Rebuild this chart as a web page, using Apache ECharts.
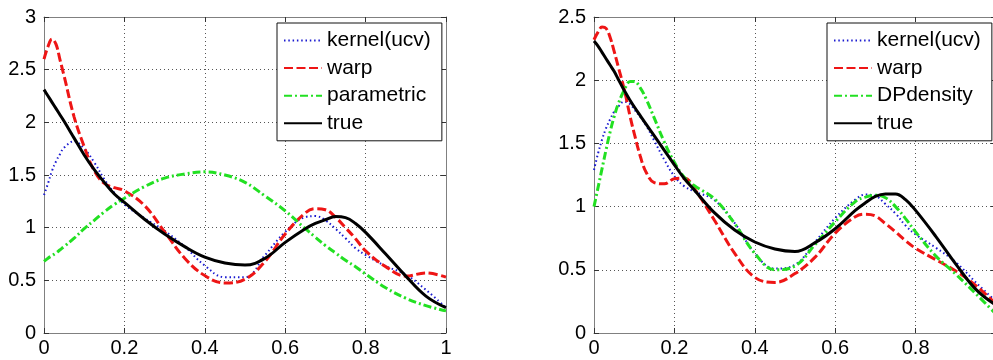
<!DOCTYPE html>
<html>
<head>
<meta charset="utf-8">
<script src="https://cdn.jsdelivr.net/npm/echarts@6/dist/echarts.min.js"></script>
<style>
html,body{margin:0;padding:0;background:#fff;}
#chart{width:993px;height:360px;}
</style>
</head>
<body>
<div id="chart"></div>
<script>
// ---------- data ----------
var xTicks = [0, 0.2, 0.4, 0.6, 0.8, 1];
var yTicksLeft = [0, 0.5, 1, 1.5, 2, 2.5, 3];
var yTicksRight = [0, 0.5, 1, 1.5, 2, 2.5];

var legendLeft = ['kernel(ucv)', 'warp', 'parametric', 'true'];
var legendRight = ['kernel(ucv)', 'warp', 'DPdensity', 'true'];

// left panel
var xL = [0, 0.01, 0.02, 0.03, 0.04, 0.05, 0.075, 0.1, 0.125, 0.15, 0.175, 0.2, 0.25, 0.3, 0.35, 0.4, 0.45, 0.5, 0.55, 0.6, 0.65, 0.675, 0.7, 0.725, 0.75, 0.775, 0.8, 0.85, 0.9, 0.95, 1.0];
var kernelL = [1.31, 1.42, 1.54, 1.63, 1.70, 1.76, 1.82, 1.75, 1.62, 1.46, 1.33, 1.22, 1.09, 0.97, 0.82, 0.64, 0.53, 0.53, 0.74, 0.96, 1.10, 1.11, 1.07, 0.99, 0.90, 0.805, 0.74, 0.635, 0.555, 0.41, 0.24];
var warpL = [2.60, 2.72, 2.79, 2.74, 2.59, 2.44, 2.05, 1.77, 1.54, 1.42, 1.38, 1.35, 1.21, 0.96, 0.71, 0.545, 0.475, 0.51, 0.68, 0.94, 1.14, 1.18, 1.17, 1.10, 1.00, 0.895, 0.78, 0.63, 0.54, 0.57, 0.53];
var parametricL = [0.68, 0.71, 0.735, 0.76, 0.79, 0.82, 0.90, 0.99, 1.07, 1.15, 1.22, 1.28, 1.39, 1.47, 1.51, 1.53, 1.50, 1.43, 1.30, 1.16, 0.99, 0.91, 0.83, 0.76, 0.69, 0.63, 0.56, 0.43, 0.33, 0.26, 0.21];
var trueL = [2.31, 2.25, 2.19, 2.13, 2.07, 2.01, 1.85, 1.69, 1.55, 1.43, 1.32, 1.24, 1.08, 0.94, 0.82, 0.72, 0.665, 0.645, 0.71, 0.86, 0.99, 1.04, 1.075, 1.105, 1.095, 1.04, 0.955, 0.75, 0.54, 0.35, 0.24];

// right panel
var xR = [0, 0.01, 0.02, 0.03, 0.04, 0.05, 0.06, 0.075, 0.09, 0.1, 0.115, 0.13, 0.15, 0.175, 0.2, 0.225, 0.25, 0.3, 0.35, 0.4, 0.45, 0.5, 0.55, 0.6, 0.65, 0.675, 0.7, 0.725, 0.75, 0.775, 0.8, 0.85, 0.9, 0.95, 1.0];
var kernelR = [1.29, 1.42, 1.53, 1.62, 1.69, 1.75, 1.79, 1.83, 1.81, 1.77, 1.71, 1.64, 1.52, 1.37, 1.24, 1.16, 1.12, 1.05, 0.87, 0.63, 0.51, 0.54, 0.72, 0.91, 1.055, 1.095, 1.085, 1.02, 0.945, 0.85, 0.78, 0.675, 0.56, 0.40, 0.25];
var warpR = [2.32, 2.38, 2.42, 2.41, 2.34, 2.23, 2.11, 1.93, 1.71, 1.58, 1.40, 1.27, 1.19, 1.18, 1.22, 1.225, 1.14, 0.89, 0.63, 0.44, 0.40, 0.47, 0.60, 0.79, 0.92, 0.94, 0.925, 0.865, 0.80, 0.73, 0.67, 0.58, 0.49, 0.375, 0.23];
var dpdensityR = [1.0, 1.15, 1.30, 1.45, 1.59, 1.71, 1.81, 1.92, 1.99, 1.99, 1.94, 1.85, 1.70, 1.51, 1.35, 1.23, 1.165, 1.06, 0.865, 0.63, 0.50, 0.53, 0.70, 0.88, 1.04, 1.075, 1.09, 1.07, 1.0, 0.905, 0.80, 0.61, 0.465, 0.31, 0.15];
var trueR = [2.31, 2.27, 2.22, 2.17, 2.12, 2.07, 2.01, 1.92, 1.84, 1.79, 1.72, 1.65, 1.56, 1.445, 1.33, 1.22, 1.13, 0.95, 0.815, 0.72, 0.665, 0.645, 0.715, 0.825, 0.97, 1.03, 1.08, 1.10, 1.10, 1.055, 0.97, 0.765, 0.545, 0.345, 0.22];

// ---------- styles ----------
var FONT = '"Liberation Sans", Arial, sans-serif';
var STY = {
  kernel: {color: '#1a1ad0', width: 2, type: [1.5, 2.8]},
  warp: {color: '#ee1515', width: 3, type: [9, 3.5]},
  green: {color: '#22e022', width: 3, type: [8, 3, 2, 3]},
  truth: {color: '#000000', width: 3, type: 'solid'}
};

function pairs(xs, ys) { return xs.map(function (x, i) { return [x, ys[i]]; }); }

function mkSeries(name, xs, ys, sty, gi) {
  return {
    name: name, type: 'line', xAxisIndex: gi * 2, yAxisIndex: gi * 2,
    data: pairs(xs, ys), smooth: 0.4, symbol: 'none', showSymbol: false,
    silent: true, animation: false,
    lineStyle: {color: sty.color, width: sty.width, type: sty.type, cap: 'butt'},
    itemStyle: {color: sty.color}
  };
}

function fmt(v) { return String(+(+v).toFixed(1)); }

function xAxes(gi, showMax) {
  var base = {type: 'value', gridIndex: gi, min: xTicks[0], max: xTicks[xTicks.length - 1], interval: xTicks[1] - xTicks[0]};
  return [
    Object.assign({}, base, {
      position: 'bottom',
      axisLine: {show: true, onZero: false, lineStyle: {color: '#808080', width: 1}},
      axisTick: {show: true, inside: true, length: 5, lineStyle: {color: '#333'}},
      axisLabel: {show: true, margin: 5, color: '#000', fontSize: 20, fontFamily: FONT, formatter: fmt, showMaxLabel: showMax},
      splitLine: {show: true, lineStyle: {color: '#555', width: 1, type: [1, 3]}}
    }),
    Object.assign({}, base, {
      position: 'top',
      axisLine: {show: true, onZero: false, lineStyle: {color: '#808080', width: 1}},
      axisTick: {show: true, inside: true, length: 5, lineStyle: {color: '#333'}},
      axisLabel: {show: false},
      splitLine: {show: false}
    })
  ];
}

function yAxes(gi, ticks) {
  var base = {type: 'value', gridIndex: gi, min: ticks[0], max: ticks[ticks.length - 1], interval: ticks[1] - ticks[0]};
  return [
    Object.assign({}, base, {
      position: 'left',
      axisLine: {show: true, onZero: false, lineStyle: {color: '#808080', width: 1}},
      axisTick: {show: true, inside: true, length: 5, lineStyle: {color: '#333'}},
      axisLabel: {show: true, margin: 8, color: '#000', fontSize: 20, fontFamily: FONT, formatter: fmt},
      splitLine: {show: true, lineStyle: {color: '#555', width: 1, type: [1, 3]}}
    }),
    Object.assign({}, base, {
      position: 'right',
      axisLine: {show: true, onZero: false, lineStyle: {color: '#808080', width: 1}},
      axisTick: {show: true, inside: true, length: 5, lineStyle: {color: '#333'}},
      axisLabel: {show: false},
      splitLine: {show: false}
    })
  ];
}

function mkLegend(data, left) {
  return {
    orient: 'vertical', left: left, top: 23,
    data: data,
    itemWidth: 38, itemHeight: 1, itemGap: 6.6,
    padding: [7, 11, 7, 6],
    backgroundColor: '#fff', borderColor: '#111', borderWidth: 1,
    selectedMode: false, inactiveColor: '#000',
    textStyle: {color: '#000', fontSize: 21, fontFamily: FONT, lineHeight: 20},
    itemStyle: {opacity: 0}
  };
}

var chart = echarts.init(document.getElementById('chart'), null, {renderer: 'canvas'});
chart.setOption({
  animation: false,
  backgroundColor: '#fff',
  grid: [
    {left: 44, top: 17, width: 402, height: 316, containLabel: false, outerBoundsMode: 'none'},
    {left: 594, top: 17, width: 402, height: 316, containLabel: false, outerBoundsMode: 'none'}
  ],
  xAxis: xAxes(0, true).concat(xAxes(1, false)),
  yAxis: yAxes(0, yTicksLeft).concat(yAxes(1, yTicksRight)),
  legend: [mkLegend(legendLeft, 277), mkLegend(legendRight, 827)],
  series: [
    mkSeries(legendLeft[0], xL, kernelL, STY.kernel, 0),
    mkSeries(legendLeft[1], xL, warpL, STY.warp, 0),
    mkSeries(legendLeft[2], xL, parametricL, STY.green, 0),
    mkSeries(legendLeft[3], xL, trueL, STY.truth, 0),
    mkSeries(legendRight[0], xR, kernelR, STY.kernel, 1),
    mkSeries(legendRight[1], xR, warpR, STY.warp, 1),
    mkSeries(legendRight[2], xR, dpdensityR, STY.green, 1),
    mkSeries(legendRight[3], xR, trueR, STY.truth, 1)
  ]
});
</script>
</body>
</html>
